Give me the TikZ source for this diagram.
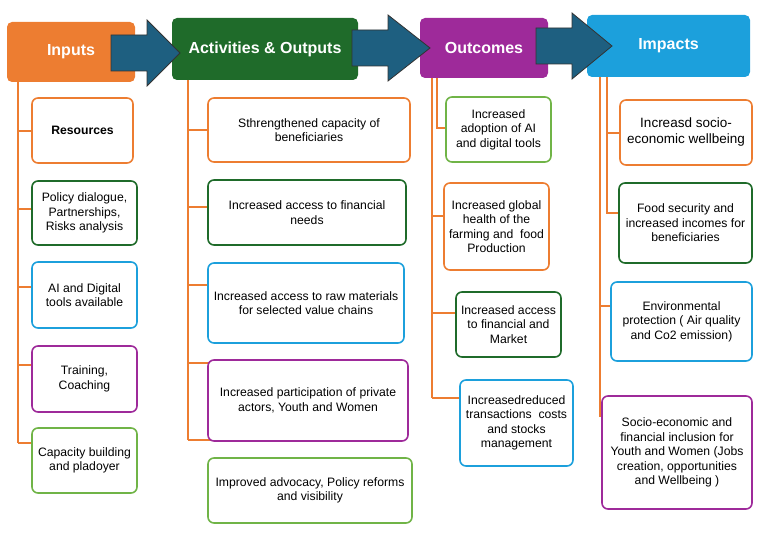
\documentclass[tikz,border=0pt]{standalone}
\usepackage{fontspec}
\setmainfont{Liberation Sans}
\usetikzlibrary{positioning}
\definecolor{corange}{HTML}{ED7D31}
\definecolor{cdgreen}{HTML}{1F6B2A}
\definecolor{clgreen}{HTML}{70B447}
\definecolor{cblue}{HTML}{1CA0DC}
\definecolor{cpurple}{HTML}{9E2A9A}
\definecolor{carrow}{HTML}{1E5F80}
\tikzset{
  head/.style={rounded corners=5pt, text=white, font=\bfseries\fontsize{16}{18}\selectfont, inner sep=0pt},
  box/.style={draw, rounded corners=6pt, line width=1.6pt, fill=white, inner sep=2pt},
  txt/.style={align=center, font=\fontsize{12.2}{14.5}\selectfont},
  tree/.style={corange, line width=1.6pt},
  blk/.style={fill=carrow, draw=black!80, line width=0.8pt},
}
\newcommand\bx[6]{% name, color, x1, y1, x2, y2
  \node[box, draw=#2, minimum width=#5-#3, minimum height=#6-#4]
    (#1) at ({(#3+#5)/2},{(#4+#6)/2}) {};}
\newcommand\blockarrow[3]{% x start, x tip, y centre
  \path[blk] (#1,#3-18) -- (#1+36,#3-18) -- (#1+36,#3-33) -- (#2,#3) -- (#1+36,#3+33)
    -- (#1+36,#3+18) -- (#1,#3+18) -- cycle;}
\begin{document}
\begin{tikzpicture}[x=1pt,y=-1pt]
  \useasboundingbox (0,0) rectangle (767,537);

  % headers
  \node[head, fill=corange, minimum width=128, minimum height=60] (inputs) at (71,52) {Inputs};
  \node[head, fill=cdgreen, minimum width=186, minimum height=62] (act) at (265,49) {Activities \& Outputs};
  \node[head, fill=cpurple, minimum width=128, minimum height=60] (outc) at (484,48) {Outcomes};
  \node[head, fill=cblue, minimum width=163, minimum height=62] (imp) at (668.5,46) {Impacts};

  % tree lines
  \draw[tree] (18,82) -- (18,443);
  \foreach \y in {131,209,287,365,443} \draw[tree] (18,\y) -- (40,\y);
  \draw[tree] (188,80) -- (188,440);
  \foreach \y in {130,207,285,363,440} \draw[tree] (188,\y) -- (215,\y);
  \draw[tree] (432,78) -- (432,398);
  \draw[tree] (437,78) -- (437,128) -- (450,128);
  \foreach \y/\e in {216/450,313/462,398/466} \draw[tree] (432,\y) -- (\e,\y);
  \draw[tree] (600,77) -- (600,417);
  \draw[tree] (607,77) -- (607,213) -- (625,213);
  \draw[tree] (607,133) -- (625,133);
  \draw[tree] (600,306) -- (617,306);

  % inputs
  \bx{in1}{corange}{32}{98}{133}{163}
  \node[txt, font=\bfseries\fontsize{12.2}{14.5}\selectfont] at (in1) {Resources};
  \bx{in2}{cdgreen}{32}{181}{137}{245}
  \node[txt] at (in2) {Policy dialogue,\\Partnerships,\\Risks analysis};
  \bx{in3}{cblue}{32}{262}{137}{328}
  \node[txt] at (in3) {AI and Digital\\tools available};
  \bx{in4}{cpurple}{32}{346}{137}{412}
  \node[txt] at (in4) {Training,\\Coaching};
  \bx{in5}{clgreen}{32}{428}{137}{493}
  \node[txt] at (in5) {Capacity building\\and pladoyer};

  % activities & outputs
  \bx{ac1}{corange}{208}{98}{410}{162}
  \node[txt] at (ac1) {Sthrengthened capacity of\\beneficiaries};
  \bx{ac2}{cdgreen}{208}{180}{406}{245}
  \node[txt] at (ac2) {Increased access to financial\\needs};
  \bx{ac3}{cblue}{208}{263}{404}{343}
  \node[txt] at (ac3) {Increased access to raw materials\\for selected value chains};
  \bx{ac4}{cpurple}{208}{360}{408}{441}
  \node[txt] at (ac4) {Increased participation of private\\actors, Youth and Women};
  \bx{ac5}{clgreen}{208}{458}{412}{523}
  \node[txt] at (ac5) {Improved advocacy, Policy reforms\\and visibility};

  % outcomes
  \bx{oc1}{clgreen}{446}{97}{551}{162}
  \node[txt] at (oc1) {Increased\\adoption of AI\\and digital tools};
  \bx{oc2}{corange}{444}{183}{549}{270}
  \node[txt] at (oc2) {Increased global\\health of the\\farming and\ \ food\\Production};
  \bx{oc3}{cdgreen}{456}{292}{561}{357}
  \node[txt] at (oc3) {Increased access\\to financial and\\Market};
  \bx{oc4}{cblue}{460}{380}{573}{466}
  \node[txt] at (oc4) {Increasedreduced\\transactions\ \ costs\\and stocks\\management};

  % impacts
  \bx{im1}{corange}{620}{100}{752}{165}
  \node[txt, font=\fontsize{13.5}{16}\selectfont] at (im1) {Increasd socio-\\economic wellbeing};
  \bx{im2}{cdgreen}{619}{183}{752}{263}
  \node[txt] at (im2) {Food security and\\increased incomes for\\beneficiaries};
  \bx{im3}{cblue}{611}{282}{752}{361}
  \node[txt] at (im3) {Environmental\\protection ( Air quality\\and Co2 emission)};
  \bx{im4}{cpurple}{602}{396}{752}{509}
  \node[txt] at (im4) {Socio-economic and\\financial inclusion for\\Youth and Women (Jobs\\creation, opportunities\\and Wellbeing )};

  % block arrows
  \blockarrow{111}{180}{53}
  \blockarrow{352}{430}{48}
  \blockarrow{536}{612}{46}
\end{tikzpicture}
\end{document}
